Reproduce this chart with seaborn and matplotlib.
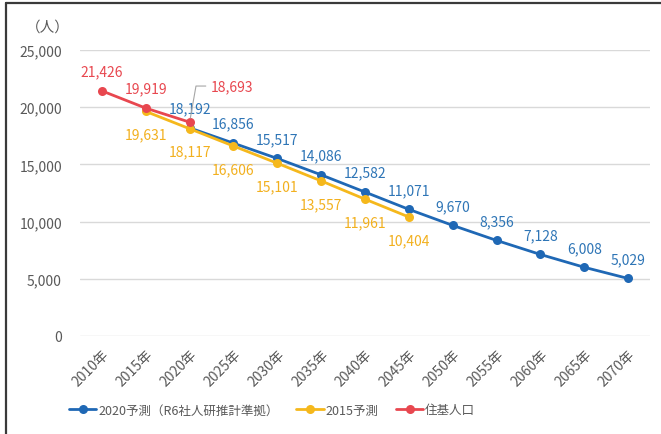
import matplotlib
matplotlib.use("Agg")
import matplotlib.pyplot as plt
from matplotlib.lines import Line2D
import seaborn as sns
import pandas as pd
import numpy as np

# ---- data ----
categories = ["2010年", "2015年", "2020年", "2025年", "2030年", "2035年", "2040年",
              "2045年", "2050年", "2055年", "2060年", "2065年", "2070年"]
years_2020 = ["2020年", "2025年", "2030年", "2035年", "2040年", "2045年", "2050年",
              "2055年", "2060年", "2065年", "2070年"]
values_2020 = [18192, 16856, 15517, 14086, 12582, 11071, 9670, 8356, 7128, 6008, 5029]
years_2015 = ["2015年", "2020年", "2025年", "2030年", "2035年", "2040年", "2045年"]
values_2015 = [19631, 18117, 16606, 15101, 13557, 11961, 10404]
years_jk = ["2010年", "2015年", "2020年"]
values_jk = [21426, 19919, 18693]
series_names = ["2020予測（R6社人研推計準拠）", "2015予測", "住基人口"]
y_ticks = [0, 5000, 10000, 15000, 20000, 25000]
unit_label = "（人）"

colors = ["#1F68B5", "#F5B81C", "#E8474F"]
label_colors = ["#2E75B6", "#F2B01E", "#E8474F"]

sns.set_theme(style="white")
plt.rcParams["font.family"] = ["Noto Sans CJK JP", "DejaVu Sans"]

def make_df(years, vals, name):
    return pd.DataFrame({"x": [categories.index(y) for y in years],
                         "value": vals, "series": name})

dfs = [make_df(years_2020, values_2020, series_names[0]),
       make_df(years_2015, values_2015, series_names[1]),
       make_df(years_jk, values_jk, series_names[2])]

fig = plt.figure(figsize=(6.61, 4.35), dpi=100)
ax = fig.add_axes([80/661, 1-337/435, 570/661, 286/435])

for df, c in zip(dfs, colors):
    sns.lineplot(data=df, x="x", y="value", ax=ax, color=c, linewidth=2.0,
                 marker="o", markersize=6.5, markeredgewidth=0, label=df["series"].iloc[0],
                 legend=False)

ax.set_xlim(-0.5, len(categories) - 0.5)
ax.set_ylim(0, 25000)
ax.set_yticks(y_ticks)
ax.set_yticklabels([f"{v:,}" for v in y_ticks])
ax.set_xticks(range(len(categories)))
ax.set_xticklabels(categories, rotation=45, ha="right", rotation_mode="anchor")
ax.tick_params(axis="both", length=0, labelsize=10, colors="#595959")
ax.tick_params(axis="y", pad=13)
ax.tick_params(axis="x", pad=8)
ax.grid(axis="y", color="#D9D9D9", linewidth=1.0)
ax.set_axisbelow(True)
for s in ax.spines.values():
    s.set_visible(False)
ax.set_xlabel("")
ax.set_ylabel("")

# data labels
for df, lc, dy in zip(dfs, label_colors, [14, -16.5, 14]):
    for x, v in zip(df["x"], df["value"]):
        if df["series"].iloc[0] == series_names[2] and x == 2:
            continue
        ax.annotate(f"{v:,}", xy=(x, v), xytext=(0, dy), textcoords="offset points",
                    ha="center", va="center", fontsize=10, color=lc)

# leader-line label for 住基人口 2020
ax.annotate(f"{values_jk[2]:,}", xy=(2, values_jk[2]), xytext=(15, 26),
            textcoords="offset points", ha="left", va="center", fontsize=10,
            color=label_colors[2],
            arrowprops=dict(arrowstyle="-", color="#A6A6A6", lw=0.8,
                            shrinkA=1, shrinkB=3,
                            connectionstyle="angle,angleA=0,angleB=80,rad=0"))

fig.text(48/661, 1-28/435, unit_label, ha="center", va="center", fontsize=10.5,
         color="#595959")

handles = [Line2D([0], [0], color=c, lw=2.0, marker="o", markersize=6.5,
                  markeredgewidth=0) for c in colors]
fig.legend(handles, series_names, loc="center", bbox_to_anchor=(272/661, 1-411/435),
           ncol=3, frameon=False, fontsize=9, handlelength=2.2, handletextpad=0.15,
           columnspacing=1.4, labelcolor="#595959")

# frame border (cropped box)
fig.add_artist(Line2D([6/661, 6/661], [0, 1-4/435], transform=fig.transFigure,
                      color="#3A3A3A", lw=1.6))
fig.add_artist(Line2D([6/661, 1], [1-4/435, 1-4/435], transform=fig.transFigure,
                      color="#3A3A3A", lw=1.6))

fig.savefig("out.png", dpi=100)
